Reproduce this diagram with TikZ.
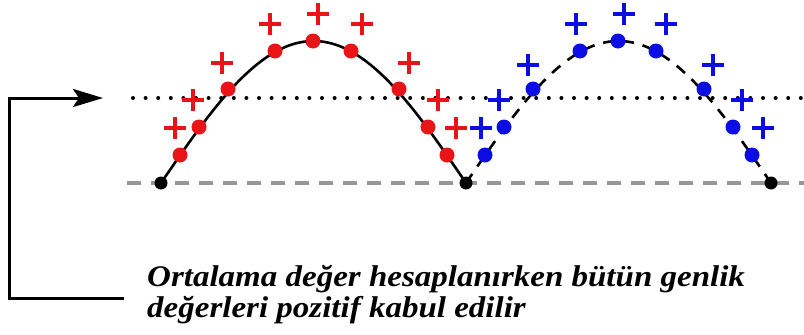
\documentclass[tikz,border=0pt]{standalone}
\usepackage{fontspec}
\usepackage{graphicx}
\setmainfont{Liberation Serif}
\usetikzlibrary{arrows.meta}
\definecolor{ptred}{RGB}{232,20,24}
\definecolor{ptblue}{RGB}{12,12,228}
\definecolor{basegray}{RGB}{150,150,150}
\tikzset{
  wave/.style={line width=2.6pt, black},
  dwave/.style={wave, dash pattern=on 11pt off 9pt},
  rdot/.style={circle, fill=ptred, inner sep=0pt, minimum size=15pt},
  bdot/.style={circle, fill=ptblue, inner sep=0pt, minimum size=15pt},
  kdot/.style={circle, fill=black, inner sep=0pt, minimum size=13pt},
  plussign/.pic={\draw[line width=3.4pt] (-11,0) -- (11,0) (0,-11) -- (0,11);},
  lbl/.style={anchor=base west, inner sep=0pt, font=\bfseries\itshape\fontsize{30}{32}\selectfont},
}
\newcommand{\wideline}[1]{\scalebox{1.1}[1]{#1}}
\begin{document}
\begin{tikzpicture}[x=1pt,y=-1pt]
\useasboundingbox (0,0) rectangle (804,335);
% reference lines
\coordinate (g0) at (127,183);
\coordinate (g1) at (804,183);
\coordinate (d0) at (133,98);
\coordinate (d1) at (804,98);
\draw[basegray, line width=4pt, dash pattern=on 14pt off 10pt] (g0) -- (g1);
\draw[black, line width=4pt, line cap=round, dash pattern=on 0pt off 12.6pt] (d0) -- (d1);
% curves
\draw[wave] plot[domain=161:466, samples=80] (\x, {183-142*sin((\x-161)/305*180)});
\draw[dwave] plot[domain=466:771, samples=80] (\x, {183-142*sin((\x-466)/305*180)});
% red dots and pluses
\foreach \px/\py [count=\i] in {180/155,199/127,228/89,275/51,313/41,351/51,399/89,428/127,447/155}{
  \node[rdot] (r\i) at (\px,\py) {};
}
\foreach \px/\py in {175/128,193/100,222/63,270/24,318/14,362/24,409/63,438/100,456/128}{
  \pic[ptred] at (\px,\py) {plussign};
}
% blue dots and pluses
\foreach \px/\py [count=\i] in {485/155,504/127,533/89,580/51,618/41,656/51,704/89,733/127,752/155}{
  \node[bdot] (b\i) at (\px,\py) {};
}
\foreach \px/\py in {481/128,499/100,528/65,576/24,624/14,666/24,713/65,742/100,763/128}{
  \pic[ptblue] at (\px,\py) {plussign};
}
% end points
\node[kdot] (k0) at (161,183) {};
\node[kdot] (k1) at (466,183) {};
\node[kdot] (k2) at (771,183) {};
% bracket arrow
\coordinate (a0) at (124,298);
\coordinate (a1) at (9,298);
\coordinate (a2) at (9,98);
\coordinate (a3) at (103,98);
\draw[line width=3pt, -{Stealth[length=30pt,width=18pt,inset=6pt]}] (a0) -- (a1) -- (a2) -- (a3);
% text
\node[lbl] (t1) at (147,286) {\wideline{Ortalama değer hesaplanırken bütün genlik}};
\node[lbl] (t2) at (147,317) {\wideline{değerleri pozitif kabul edilir}};
\end{tikzpicture}
\end{document}
